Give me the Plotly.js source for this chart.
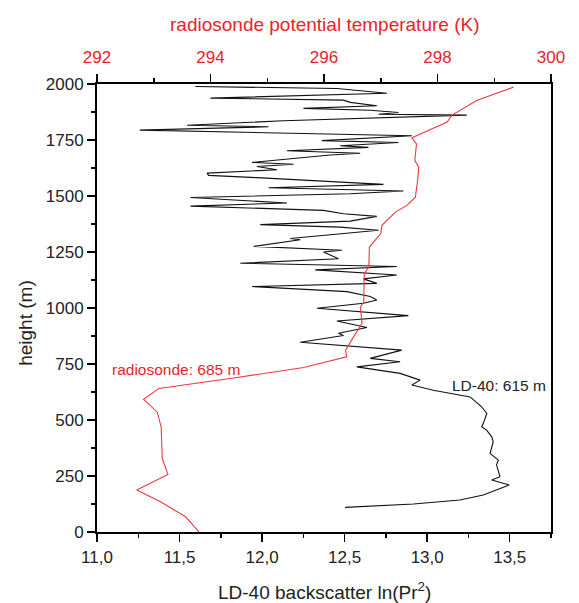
<!DOCTYPE html>
<html>
<head>
<meta charset="utf-8">
<script src="https://cdn.plot.ly/plotly-3.0.1.min.js"></script>
<style>html,body{margin:0;padding:0;background:#fff;}#chart{width:579px;height:603px;}</style>
</head>
<body>
<div id="chart"></div>
<script>
// LD-40 backscatter profile (height m, ln(Pr^2))
const heightLD = [1989,1980,1959,1937,1928,1918,1903,1891,1883,1873,1865,1861,1836,1816,1809,1794,1769,1747,1739,1724,1717,1702,1691,1683,1650,1642,1632,1617,1602,1592,1582,1552,1537,1522,1510,1493,1469,1455,1436,1421,1409,1388,1372,1361,1347,1310,1305,1275,1258,1250,1220,1200,1185,1170,1147,1130,1110,1096,1073,1051,1036,1021,999,966,942,913,887,877,847,826,812,775,760,737,708,678,656,633,603,559,529,485,470,455,425,403,351,321,300,247,232,210,187,165,143,125,110];
const backscatter = [11.596,12.453,12.756,11.687,12.493,12.534,12.695,12.251,12.655,12.826,12.705,13.240,12.130,11.546,12.039,11.259,12.907,12.362,12.826,12.473,12.644,12.151,12.594,12.413,11.939,12.191,11.969,12.090,11.667,11.676,11.969,12.735,12.039,12.856,12.534,11.566,12.151,11.566,12.372,12.493,12.695,12.534,11.989,12.473,12.705,12.171,12.231,11.949,12.483,12.372,12.463,11.868,12.816,12.322,12.816,12.614,12.695,11.939,12.514,12.655,12.695,12.614,12.332,12.886,12.453,12.635,12.463,12.493,12.231,12.574,12.846,12.655,12.836,12.574,12.836,12.957,12.907,13.037,13.260,13.330,13.361,13.340,13.330,13.360,13.391,13.400,13.381,13.431,13.420,13.441,13.391,13.497,13.421,13.340,13.199,12.917,12.503];

// Radiosonde potential temperature profile (height m, K)
const heightRS = [1986,1926,1860,1830,1760,1733,1659,1629,1570,1495,1458,1428,1369,1332,1272,1183,1154,1094,1027,1005,931,871,812,782,763,734,690,641,592,536,470,329,257,187,135,68,0];
const thetaRS = [299.34,298.69,298.25,298.17,297.55,297.63,297.60,297.67,297.65,297.61,297.46,297.26,297.02,297.00,296.80,296.79,296.71,296.71,296.70,296.64,296.67,296.52,296.38,296.40,296.11,295.64,294.47,293.09,292.82,293.06,293.13,293.15,293.25,292.70,293.12,293.56,293.80];

const xTickVals = [11.0,11.5,12.0,12.5,13.0,13.5];
const xTickText = ['11,0','11,5','12,0','12,5','13,0','13,5'];
const x2TickVals = [292,294,296,298,300];
const x2TickText = ['292','294','296','298','300'];
const yTickVals = [0,250,500,750,1000,1250,1500,1750,2000];
const yTickText = ['0','250','500','750','1000','1250','1500','1750','2000'];

const RED = '#e8232b';
const FONT = 'Liberation Sans, Arial, sans-serif';

const traces = [
  {x: backscatter, y: heightLD, xaxis:'x', yaxis:'y', mode:'lines', line:{color:'#111', width:1.1}, hoverinfo:'skip'},
  {x: thetaRS, y: heightRS, xaxis:'x2', yaxis:'y', mode:'lines', line:{color:'#ee3a3a', width:1.1}, hoverinfo:'skip'}
];

const axisCommon = {
  showline:true, linecolor:'black', linewidth:2, ticks:'outside', ticklen:8, tickwidth:1.5, tickcolor:'black',
  showgrid:false, zeroline:false, fixedrange:true
};

const layout = {
  width:579, height:603,
  margin:{l:96.5, r:28, t:83.5, b:71},
  paper_bgcolor:'white', plot_bgcolor:'white',
  showlegend:false,
  font:{family:FONT, size:17, color:'#222'},
  xaxis: Object.assign({}, axisCommon, {
    range:[11, 13.75], tickmode:'array', tickvals:xTickVals, ticktext:xTickText,
    tickfont:{family:FONT, size:17, color:'#222'}, ticklabelstandoff:1,
    minor:{tickmode:'linear', tick0:11, dtick:0.25, ticks:'outside', ticklen:4, tickcolor:'black', tickwidth:1.5},
    mirror:false
  }),
  xaxis2: Object.assign({}, axisCommon, {
    overlaying:'x', side:'top', anchor:'y',
    range:[292, 300], tickmode:'array', tickvals:x2TickVals, ticktext:x2TickText,
    tickfont:{family:FONT, size:17, color:RED}, ticklabelstandoff:4,
    minor:{tickmode:'linear', tick0:292, dtick:1, ticks:'outside', ticklen:4, tickcolor:'black', tickwidth:1.5}
  }),
  yaxis: Object.assign({}, axisCommon, {
    range:[0, 2000], tickmode:'array', tickvals:yTickVals, ticktext:yTickText,
    tickfont:{family:FONT, size:17, color:'#222'},
    minor:{tickmode:'linear', tick0:0, dtick:125, ticks:'outside', ticklen:4, tickcolor:'black', tickwidth:1.5},
    mirror:true
  }),
  annotations:[
    {text:'radiosonde potential temperature (K)', xref:'paper', yref:'paper', x:0.5, y:1.1327, xanchor:'center', yanchor:'middle', showarrow:false, font:{family:FONT, size:19, color:RED}},
    {text:'LD-40 backscatter ln(Pr<sup>2</sup>)', xref:'paper', yref:'paper', x:0.5, y:-0.1316, xanchor:'center', yanchor:'middle', showarrow:false, font:{family:FONT, size:19, color:'#222'}},
    {text:'height (m)', xref:'paper', yref:'paper', x:-0.1573, y:0.466, xanchor:'center', yanchor:'middle', textangle:-90, showarrow:false, font:{family:FONT, size:19, color:'#222'}},
    {text:'radiosonde: 685 m', xref:'paper', yref:'paper', x:0.0297, y:0.3634, xanchor:'left', yanchor:'middle', showarrow:false, font:{family:FONT, size:15.5, color:RED}},
    {text:'LD-40: 615 m', xref:'paper', yref:'paper', x:0.7778, y:0.3262, xanchor:'left', yanchor:'middle', showarrow:false, font:{family:FONT, size:15.5, color:'#222'}}
  ]
};

Plotly.newPlot('chart', traces, layout, {staticPlot:true, displayModeBar:false});
</script>
</body>
</html>
